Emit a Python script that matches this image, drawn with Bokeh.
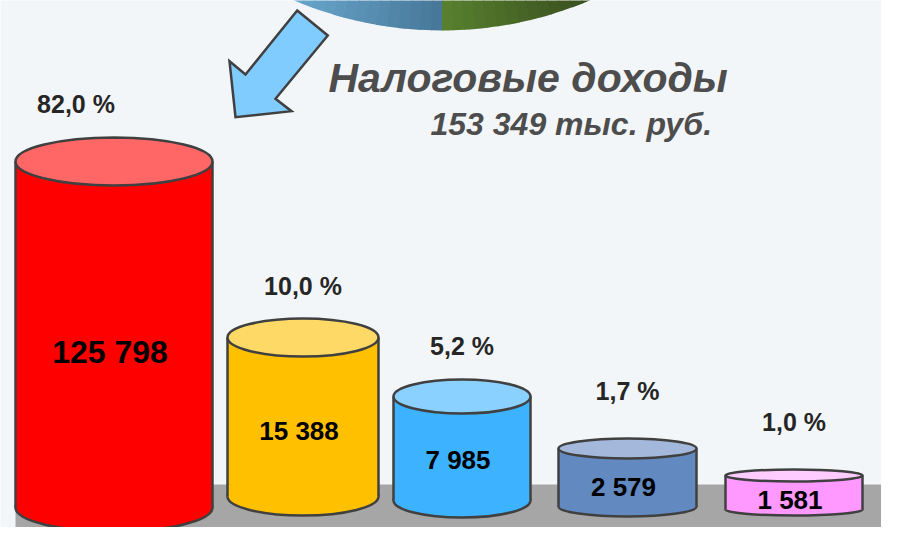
from bokeh.plotting import figure
from bokeh.models import Range1d, ColumnDataSource
from bokeh.embed import file_html
from bokeh.resources import INLINE
from bokeh.core.properties import value
import math

# ---------------- data ----------------
category_ids = ["Вид 1", "Вид 2", "Вид 3", "Вид 4", "Вид 5"]
amounts = [125798, 15388, 7985, 2579, 1581]          # тыс. руб.
shares = [82.0, 10.0, 5.2, 1.7, 1.0]                 # %
total_amount = 153349
title_text = "Налоговые доходы"
unit_text = "тыс. руб."
# cylinder heights as depicted in the infographic (scale units)
depicted_height = [346, 159, 104, 58, 34]

# ---------------- layout / style ----------------
W, H = 881, 527
def Y(yref):
    return 543 - yref

cx = [113.5, 302.5, 461.5, 627, 793.5]
cw = [197, 151, 137, 138, 137]
base_ref = [507, 496, 500, 506, 509]
ell_h = [48, 38, 34, 20, 12]
body_col = ["#ff0000", "#ffc000", "#3db3ff", "#6289c0", "#ff99ff"]
top_col = ["#ff6666", "#ffd966", "#8bd1ff", "#a3b8da", "#ffccff"]
val_dy = [156, 66, 41, 20, 10]
val_size = ["32px", "26px", "26px", "26px", "26px"]
pct_dx = [-38, 0, 0, 0, 0]
pct_dy = [58, 52, 51, 58, 54]
outline = "#404040"
bg = "#f3f6f8"
floor_col = "#a6a6a6"

def fmt_num(v):
    return f"{v:,}".replace(",", " ")

def fmt_pct(s):
    return f"{s:.1f}".replace(".", ",") + " %"

p = figure(width=W, height=H, output_backend="svg", toolbar_location=None,
           x_range=Range1d(0, 881), y_range=Range1d(16, 543), min_border=0)
p.axis.visible = False
p.grid.visible = False
p.outline_line_color = None
p.background_fill_color = bg
p.border_fill_color = bg

# ---- decorative pie at the top ----
pcx, pcy, pr = 441.5, Y(-348), 378
def mix(c1, c2, t):
    a = [int(c1[i:i + 2], 16) for i in (1, 3, 5)]
    b = [int(c2[i:i + 2], 16) for i in (1, 3, 5)]
    return "#%02x%02x%02x" % tuple(round(a[k] + (b[k] - a[k]) * t) for k in range(3))

a0 = math.radians(246.5)
a1 = math.radians(270)
a2 = math.radians(293.5)
n = 14
ws, we, wc = [math.pi], [a0], ["#68a6cc"]
for i in range(n):
    ws.append(a0 + (a1 - a0) * i / n)
    we.append(a0 + (a1 - a0) * (i + 1) / n + 0.002)
    wc.append(mix("#68a6cc", "#477899", i / (n - 1)))
for i in range(n):
    ws.append(a1 + (a2 - a1) * i / n)
    we.append(a1 + (a2 - a1) * (i + 1) / n + 0.002)
    wc.append(mix("#577f2e", "#394f1f", i / (n - 1)))
ws.append(a2); we.append(2 * math.pi); wc.append("#394f1f")
p.wedge(x=pcx, y=pcy, radius=pr, start_angle=ws, end_angle=we,
        fill_color=wc, line_color=None)

# ---- arrow ----
arrow_x = [296.7, 327.3, 275, 291, 235, 229, 245]
arrow_y = [Y(v) for v in [10, 35, 98.3, 110.7, 116.7, 60.7, 74]]
p.patch(arrow_x, arrow_y, fill_color="#80ccff", line_color="#404040", line_width=2.5,
        line_join="miter")

# ---- titles ----
p.text(x=[328], y=[Y(77)], text=[title_text], text_font=value("Liberation Sans"),
       text_font_style="bold italic", text_font_size="41px", text_color="#4d4d4d",
       text_align="left", text_baseline="alphabetic")
p.text(x=[430], y=[Y(123)], text=[fmt_num(total_amount) + " " + unit_text],
       text_font=value("Liberation Sans"), text_font_style="bold italic",
       text_font_size="32px", text_color="#4d4d4d",
       text_align="left", text_baseline="alphabetic")

# ---- floor ----
p.quad(left=[15], right=[900], bottom=[0], top=[Y(484)], fill_color=floor_col, line_color=None)

# ---- cylinders ----
base = [Y(b) for b in base_ref]
top = [b + h for b, h in zip(base, depicted_height)]
src = ColumnDataSource(dict(
    x=cx, w=cw, base=base, top=top, eh=ell_h, body=body_col, tc=top_col,
    left=[c - w / 2 for c, w in zip(cx, cw)], right=[c + w / 2 for c, w in zip(cx, cw)],
    vx=[c - 4 for c in cx], vy=[b + d for b, d in zip(base, val_dy)],
    vt=[fmt_num(v) for v in amounts], vs=val_size,
    px=[c + d for c, d in zip(cx, pct_dx)], py=[t + d for t, d in zip(top, pct_dy)],
    pt=[fmt_pct(s) for s in shares],
))
p.ellipse(x="x", y="base", width="w", height="eh", fill_color="body",
          line_color=outline, line_width=2.5, source=src)
p.quad(left="left", right="right", bottom="base", top="top", fill_color="body",
       line_color=None, source=src)
p.segment(x0="left", y0="base", x1="left", y1="top", line_color=outline, line_width=2.5, source=src)
p.segment(x0="right", y0="base", x1="right", y1="top", line_color=outline, line_width=2.5, source=src)
p.ellipse(x="x", y="top", width="w", height="eh", fill_color="tc",
          line_color=outline, line_width=2.5, source=src)

p.text(x="vx", y="vy", text="vt", text_font=value("Liberation Sans"), text_font_style="bold",
       text_font_size="vs", text_color="#000000", text_align="center",
       text_baseline="middle", source=src)
p.text(x="px", y="py", text="pt", text_font=value("Liberation Sans"), text_font_style="bold",
       text_font_size="25px", text_color="#262626", text_align="center",
       text_baseline="middle", source=src)

open("out.html", "w").write(file_html(p, INLINE))
